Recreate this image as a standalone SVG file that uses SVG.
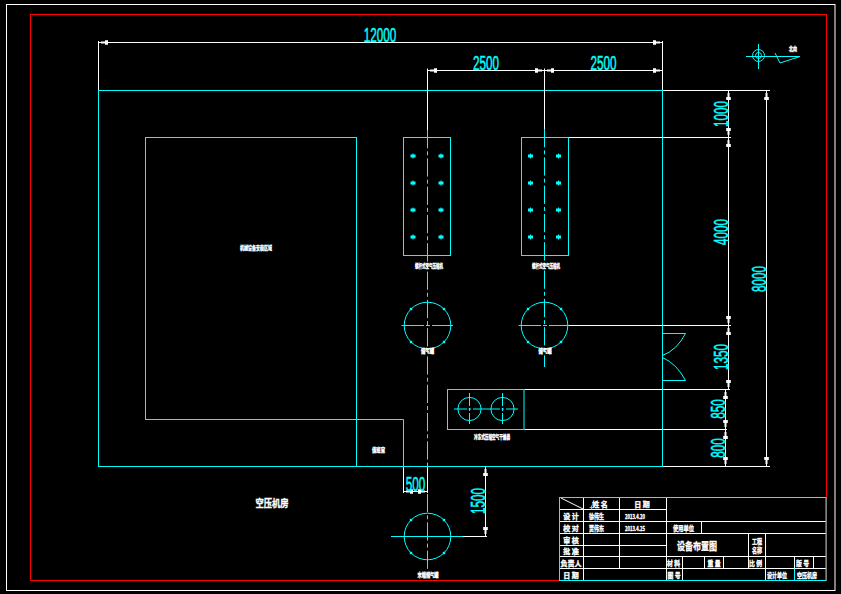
<svg xmlns="http://www.w3.org/2000/svg" width="841" height="594" viewBox="0 0 841 594">
<style>
.c{fill:none;stroke:#00ffff;stroke-width:1}
.w{fill:none;stroke:#fff;stroke-width:1}
.r{fill:none;stroke:#ff0000;stroke-width:1}
.cl{fill:none;stroke:#00ffff;stroke-width:1;stroke-dasharray:18.3 3 4 3}
.d{fill:#00ffff;stroke:none}
.dim{fill:#00ffff;stroke:#00ffff;stroke-width:.5;font-family:"Liberation Sans",sans-serif;font-size:19.5px;text-anchor:middle}
.t{fill:#fff;stroke:#fff;stroke-width:.35;font-family:"Noto Sans CJK SC",sans-serif;font-weight:700;text-anchor:middle}
.a{marker-start:url(#as);marker-end:url(#ae)}
</style>
<defs>
<marker id="ae" markerUnits="userSpaceOnUse" markerWidth="10" markerHeight="6" refX="9.5" refY="3" orient="auto"><path d="M0 .7H3V2H7V4H3V5.3H0Z" fill="#fff"/></marker>
<marker id="as" markerUnits="userSpaceOnUse" markerWidth="10" markerHeight="6" refX=".5" refY="3" orient="auto"><path d="M10 .7H7V2H3V4H7V5.3H10Z" fill="#fff"/></marker>
<path id="pump" class="d" d="M-.5 -2.5H.5V-1.5H2.5V1.5H.5V2.5H-.5V1.5H-2.5V-1.5H-.5Z"/>
<g id="tick"><rect class="d" x="-1.2" y="-1.2" width="2.4" height="2.4"/></g>
</defs>
<rect width="841" height="594" fill="#000"/>
<g id="frame">
<rect class="w" x="6.5" y="4.5" width="828.5" height="586"/>
<rect class="r" x="30.5" y="14.5" width="796" height="566"/>
</g>
<g id="building">
<rect class="c" x="98.5" y="90.5" width="564" height="376"/>
<rect class="c" x="145.5" y="137.5" width="211" height="282"/>
<path class="c" d="M356.5 419.5H403.5V466.5M356.5 419.5V466.5"/>
<path class="c" d="M662.5 333.5H685.5Q677 350 662.5 355.5M662.5 380.5H685.5Q677 364 662.5 357.5"/>
<text class="t" x="256" y="250" font-size="6" textLength="32" lengthAdjust="spacingAndGlyphs">机械设备安装区域</text>
<text class="t" x="378.5" y="452" font-size="6" textLength="13" lengthAdjust="spacingAndGlyphs">值班室</text>
<text class="t" x="272" y="507" font-size="10" textLength="33" lengthAdjust="spacingAndGlyphs">空压机房</text>
</g>
<g id="centerlines">
<path class="cl" d="M427.5 130V466"/>
<path class="cl" d="M427.5 494V569"/>
<path class="cl" d="M544.5 129V367"/>
</g>
<g id="equip-1">
<rect class="c" x="403.5" y="137.5" width="47" height="118"/>
<use href="#pump" x="413" y="156"/><use href="#pump" x="441" y="156"/><use href="#pump" x="413" y="183"/><use href="#pump" x="441" y="183"/><use href="#pump" x="413" y="210"/><use href="#pump" x="441" y="210"/><use href="#pump" x="413" y="237"/><use href="#pump" x="441" y="237"/>
<text class="t" x="429" y="268" font-size="6" textLength="28" lengthAdjust="spacingAndGlyphs">螺杆式空气压缩机</text>
</g>
<g id="equip-2">
<rect class="c" x="521.5" y="137.5" width="47" height="118"/>
<use href="#pump" x="530.5" y="156"/><use href="#pump" x="558.5" y="156"/><use href="#pump" x="530.5" y="183"/><use href="#pump" x="558.5" y="183"/><use href="#pump" x="530.5" y="210"/><use href="#pump" x="558.5" y="210"/><use href="#pump" x="530.5" y="237"/><use href="#pump" x="558.5" y="237"/>
<text class="t" x="546" y="268" font-size="6" textLength="28" lengthAdjust="spacingAndGlyphs">螺杆式空气压缩机</text>
</g>
<g id="tank-1">
<circle class="c" cx="427.5" cy="325.5" r="23.3"/>
<path class="c" d="M401.5 325.5H424M426 325.5H430M432 325.5H453"/>
<use href="#tick" x="411" y="309"/><use href="#tick" x="444" y="309"/><use href="#tick" x="411" y="342"/><use href="#tick" x="444" y="342"/>
<text class="t" x="427.5" y="353" font-size="5.5" textLength="13" lengthAdjust="spacingAndGlyphs">储气罐</text>
</g>
<g id="tank-2">
<circle class="c" cx="544.5" cy="325.5" r="23.3"/>
<path class="c" d="M518.5 325.5H541M543 325.5H547M549 325.5H569"/>
<use href="#tick" x="528" y="309"/><use href="#tick" x="561" y="309"/><use href="#tick" x="528" y="342"/><use href="#tick" x="561" y="342"/>
<text class="t" x="545" y="353" font-size="5.5" textLength="13" lengthAdjust="spacingAndGlyphs">储气罐</text>
</g>
<g id="dryer">
<rect class="c" x="447.5" y="389.5" width="76.5" height="40"/>
<circle class="c" cx="469.5" cy="409" r="11.6"/>
<circle class="c" cx="502.5" cy="409" r="11.6"/>
<path class="c" d="M454 409H467M468.5 409H471M473 409H500M501.5 409H504M506 409H518M469.5 393V406M469.5 408V411M469.5 413V424M502.5 393V406M502.5 408V411M502.5 413V424"/>
<text class="t" x="492" y="439" font-size="6" textLength="36" lengthAdjust="spacingAndGlyphs">冷冻式压缩空气干燥器</text>
</g>
<g id="tank-3">
<circle class="c" cx="427.5" cy="536.5" r="23.3"/>
<path class="c" d="M391 536.5H463"/>
<use href="#tick" x="411" y="520"/><use href="#tick" x="444" y="520"/><use href="#tick" x="411" y="553"/><use href="#tick" x="444" y="553"/>
<text class="t" x="428" y="577" font-size="6" textLength="21" lengthAdjust="spacingAndGlyphs">末端储气罐</text>
</g>
<g id="connectors">
<path class="w" d="M98.5 41V90M662.5 41V90M427.5 68.5V130M544.5 68.5V129"/>
<path class="w a" d="M98.5 42.5H662.5"/>
<path class="w a" d="M427.5 70.5H544.5"/>
<path class="w a" d="M544.5 70.5H662.5"/>
<path class="w" d="M663 90.5H770M569 137.5H731M569 325.5H731M524.5 389.5H730M524.5 429.5H727M663 466.5H770"/>
<path class="w a" d="M728.5 90.5V137.5"/>
<path class="w a" d="M728.5 137.5V325.5"/>
<path class="w a" d="M728.5 325.5V389.5"/>
<path class="w a" d="M725.5 389.5V429.5"/>
<path class="w a" d="M725.5 429.5V466.5"/>
<path class="w a" d="M766.5 90.5V466.5"/>
<path class="w" d="M403.5 467V493M427.5 467V493"/>
<path class="w a" d="M403.5 491.5H427.5"/>
<path class="w" d="M463 536.5H487"/>
<path class="w a" d="M485.5 466.5V536.5"/>
<text class="dim" transform="translate(380 42) scale(.6 1)">12000</text>
<text class="dim" transform="translate(486 69.5) scale(.6 1)">2500</text>
<text class="dim" transform="translate(603.5 69.5) scale(.6 1)">2500</text>
<text class="dim" transform="translate(727.5 114) rotate(-90) scale(.6 1)">1000</text>
<text class="dim" transform="translate(727.5 232) rotate(-90) scale(.6 1)">4000</text>
<text class="dim" transform="translate(727.5 357) rotate(-90) scale(.6 1)">1350</text>
<text class="dim" transform="translate(725 409) rotate(-90) scale(.6 1)">850</text>
<text class="dim" transform="translate(725 448) rotate(-90) scale(.6 1)">800</text>
<text class="dim" transform="translate(766 279) rotate(-90) scale(.6 1)">8000</text>
<text class="dim" transform="translate(415.5 490.5) scale(.6 1)">500</text>
<text class="dim" transform="translate(485 501) rotate(-90) scale(.6 1)">1500</text>
</g>
<g id="north">
<circle class="c" cx="758.5" cy="55.5" r="6" stroke-width="1.5"/>
<circle class="c" cx="758.5" cy="55.5" r="3"/>
<path class="c" d="M746 56.5H800M758.5 44V69M775 53L780 63L800 56.5"/>
<text class="t" x="793" y="51" font-size="6" textLength="8" lengthAdjust="spacingAndGlyphs">北向</text>
</g>
<g id="title-block">
<path class="w" d="M559.5 509.5H666.5M559.5 521.5H826M559.5 533.5H826M559.5 545.5H666.5M559.5 556.5H826M559.5 568.5H826M583.5 497.5V580M619.5 497.5V568.5M666.5 497.5V580M701.5 521.5V533.5M748.5 533.5V568.5M765.5 533.5V580M682.5 556.5V580M704.5 556.5V568.5M723.5 556.5V568.5M794.5 556.5V568.5M813.5 556.5V568.5M561 498L583 509"/>
<path class="c" d="M794.5 568.5V580M589.5 507.5H593.5M591.5 505.5V509.5"/>
<rect class="c" x="559.5" y="497.5" width="266.5" height="83"/>
<g class="t" font-size="7">
<text x="600" y="507">姓 名</text><text x="642" y="507">日 期</text>
<text x="571" y="518.5">设 计</text><text x="596.5" y="518.5" textLength="15" lengthAdjust="spacingAndGlyphs">徐伟生</text><text x="635" y="518.5" font-size="6" textLength="20" lengthAdjust="spacingAndGlyphs">2013.4.20</text>
<text x="571" y="530.5">校 对</text><text x="596.5" y="530.5" textLength="15" lengthAdjust="spacingAndGlyphs">贾伟东</text><text x="635" y="530.5" font-size="6" textLength="20" lengthAdjust="spacingAndGlyphs">2013.4.25</text>
<text x="571" y="542.5">审 核</text><text x="571" y="554">批 准</text><text x="571" y="565.5">负责人</text><text x="571" y="577.5">日 期</text>
<text x="683.5" y="530.5" textLength="21" lengthAdjust="spacingAndGlyphs">使用单位</text>
<text x="697" y="549.5" font-size="10" textLength="40" lengthAdjust="spacingAndGlyphs">设备布置图</text>
<text x="757" y="544" textLength="10" lengthAdjust="spacingAndGlyphs">工程</text><text x="757" y="553" textLength="10" lengthAdjust="spacingAndGlyphs">名称</text>
<text x="673.5" y="566" textLength="13" lengthAdjust="spacingAndGlyphs">材 料</text><text x="714" y="566" textLength="13" lengthAdjust="spacingAndGlyphs">重 量</text><text x="755.5" y="566" textLength="13" lengthAdjust="spacingAndGlyphs">比 例</text><text x="802.5" y="566" textLength="13" lengthAdjust="spacingAndGlyphs">版 号</text>
<text x="674" y="577.5" textLength="13" lengthAdjust="spacingAndGlyphs">图 号</text><text x="777" y="577.5" textLength="20" lengthAdjust="spacingAndGlyphs">设计单位</text><text x="807" y="577.5" textLength="20" lengthAdjust="spacingAndGlyphs">空压机房</text>
</g>
</g>
</svg>
